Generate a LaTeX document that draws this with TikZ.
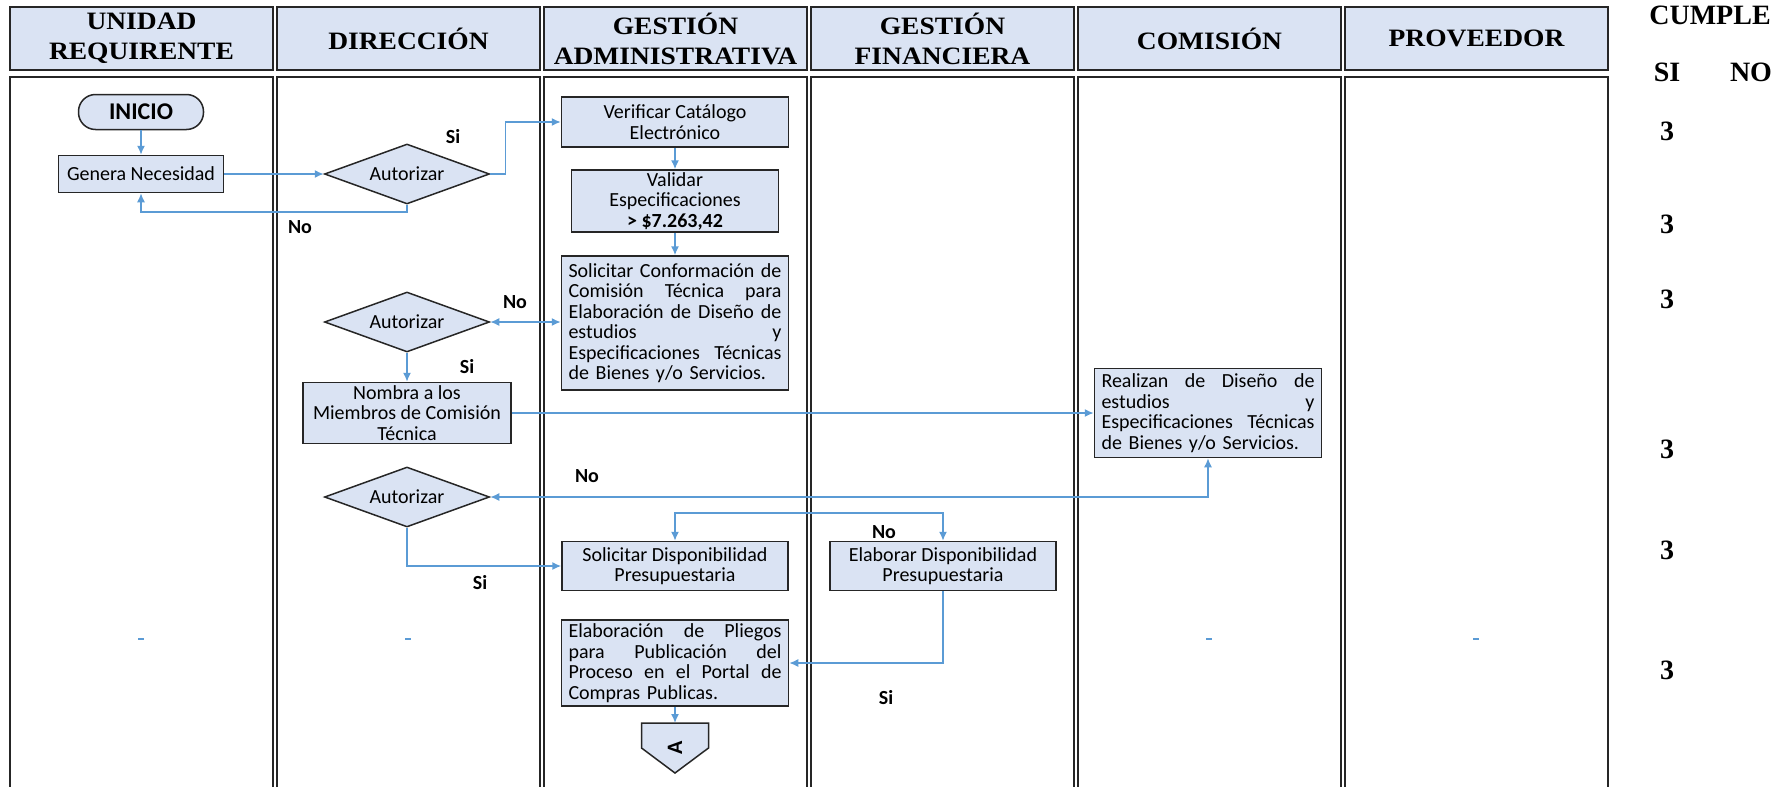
\documentclass[tikz,border=0pt]{standalone}
\usepackage{fontspec}
\setmainfont{Carlito}
\newfontfamily\hdrfont{Liberation Serif}[FakeStretch=1.1]
\newfontfamily\cumplefont{Liberation Serif}
\usetikzlibrary{shapes.geometric, arrows.meta}
\definecolor{boxblue}{HTML}{DAE3F3}
\definecolor{lineblue}{HTML}{5B9BD5}
\tikzstyle{lanehead} = [rectangle, minimum width=263pt, minimum height=63pt, text centered, align=center, draw=black!85, line width=2pt, fill=boxblue, font=\hdrfont\bfseries\fontsize{25}{30}\selectfont]
\tikzstyle{lanebody} = [draw=black!85, line width=2pt]
\tikzstyle{start} = [rectangle, rounded corners=17pt, minimum width=125pt, minimum height=35pt, text centered, draw=black!85, line width=1.5pt, fill=boxblue, font=\bfseries\fontsize{24}{24}\selectfont]
\tikzstyle{process} = [rectangle, inner xsep=6pt, inner ysep=1pt, text centered, align=center, draw=black!85, line width=1.5pt, fill=boxblue, font=\fontsize{20}{20.5}\selectfont]
\tikzstyle{procj} = [process, align=left, inner xsep=7pt, text width=213pt]
\tikzstyle{decision} = [diamond, aspect=2.75, minimum width=165pt, minimum height=60pt, inner sep=0pt, text centered, draw=black!85, line width=1.5pt, fill=boxblue, font=\fontsize{20}{20.5}\selectfont]
\tikzstyle{arrow} = [line width=1.5pt, draw=lineblue, ->, >={Latex[length=9pt,width=8pt]}]
\tikzstyle{answer} = [font=\bfseries\fontsize{20}{20}\selectfont]
\tikzstyle{check} = [font=\cumplefont\bfseries\fontsize{28}{28}\selectfont]
% linea justificada: palabras separadas con \hfill
\newcommand{\jline}[1]{\makebox[213pt][l]{#1}}

\begin{document}
\begin{tikzpicture}[x=1pt, y=-1pt]
\useasboundingbox (0,0) rectangle (1791,787);

% carriles
\node (hUR) [lanehead] at (141.5,38.5) {UNIDAD\\REQUIRENTE};
\node (hDir) [lanehead] at (408.5,38.5) {DIRECCIÓN};
\node (hGA) [lanehead] at (675.5,38.5) {GESTIÓN\\ADMINISTRATIVA};
\node (hGF) [lanehead] at (942.5,38.5) {GESTIÓN\\FINANCIERA};
\node (hCom) [lanehead] at (1209.5,38.5) {COMISIÓN};
\node (hProv) [lanehead] at (1476.5,38.5) {PROVEEDOR};
\foreach \x in {10,277,544,811,1078,1345}
  \draw [lanebody] (\x,77) rectangle ++(263,720);

% columna cumple
\node (cumple) [check] at (1710,15) {CUMPLE};
\node (csi) [check] at (1667,72) {SI};
\node (cno) [check] at (1751,72) {NO};
\foreach \y [count=\i] in {131,224,299,449,550,670}
  \node (c\i) [check] at (1667,\y) {3};

% proceso
\node (inicio) [start] at (141,112) {INICIO};
\node (genera) [process, minimum width=165pt, minimum height=37pt] at (141,174) {Genera Necesidad};
\node (aut1) [decision] at (407,174) {Autorizar};
\node (verif) [process, minimum width=227pt, minimum height=50pt] at (675,122) {Verificar Catálogo\\Electrónico};
\node (valid) [process, minimum width=207pt, minimum height=62pt] at (675,201) {Validar\\Especificaciones\\\textbf{> \$7.263,42}};
\node (solconf) [procj, minimum height=134pt] at (675,323) {\jline{Solicitar\hfill Conformación\hfill de}\\\jline{Comisión\hfill Técnica\hfill para}\\\jline{Elaboración\hfill de\hfill Diseño\hfill de}\\\jline{estudios\hfill y}\\\jline{Especificaciones\hfill Técnicas}\\de Bienes y/o Servicios.};
\node (aut2) [decision] at (407,322) {Autorizar};
\node (nombra) [process, minimum width=208pt, minimum height=61pt] at (407,413) {Nombra a los\\Miembros de Comisión\\Técnica};
\node (realizan) [procj, minimum height=89pt] at (1208,413) {\jline{Realizan\hfill de\hfill Diseño\hfill de}\\\jline{estudios\hfill y}\\\jline{Especificaciones\hfill Técnicas}\\de Bienes y/o Servicios.};
\node (aut3) [decision] at (407,497) {Autorizar};
\node (soldisp) [process, minimum width=226pt, minimum height=49pt] at (675,566) {Solicitar Disponibilidad\\Presupuestaria};
\node (elabdisp) [process, minimum width=226pt, minimum height=49pt] at (943,566) {Elaborar Disponibilidad\\Presupuestaria};
\node (pliegos) [procj, minimum height=86pt] at (675,663) {\jline{Elaboración\hfill de\hfill Pliegos}\\\jline{para\hfill Publicación\hfill del}\\\jline{Proceso\hfill en\hfill el\hfill Portal\hfill de}\\Compras Publicas.};

% conector fuera de pagina
\coordinate (offtop) at (675,723);
\draw [draw=black!85, line width=1.5pt, fill=boxblue] (offtop) ++(-33.5,0) -- ++(67,0) -- ++(0,25) -- ++(-33.5,25) -- ++(-33.5,-25) -- cycle;
\node (offA) [rotate=90, font=\bfseries\fontsize{22}{22}\selectfont] at (675,748) {A};

% respuestas
\node (si1) [answer] at (453,137) {Si};
\node (no1) [answer] at (300,227) {No};
\node (no2) [answer] at (515,302) {No};
\node (si2) [answer] at (467,367) {Si};
\node (no3) [answer] at (587,476) {No};
\node (si3) [answer] at (480,583) {Si};
\node (no4) [answer] at (884,532) {No};
\node (si4) [answer] at (886,698) {Si};

\foreach \x in {141,408,1209,1476}
  \draw [line width=1.5pt, lineblue] (\x-3,639) -- (\x+3,639);

\draw [arrow] (inicio) -- (genera);
\draw [arrow] (genera) -- (aut1);
\draw [arrow] (aut1.east) -- ++(15,0) |- (verif.west);
\draw [arrow] (aut1.south) -- ++(0,7) -| (genera.south);
\draw [arrow] (verif) -- (valid);
\draw [arrow] (valid) -- (solconf);
\draw [arrow, <->] (aut2.east) -- (aut2.east -| solconf.west);
\draw [arrow] (aut2) -- (nombra);
\draw [arrow] (nombra.east) -- (nombra.east -| realizan.west);
\draw [arrow, <->] (realizan.south) |- (aut3.east);
\draw [arrow] (aut3.south) |- (soldisp.west);
\draw [arrow, <->] (soldisp.north) -- ++(0,-28) -| (elabdisp.north);
\draw [arrow] (elabdisp.south) |- (pliegos.east);
\draw [arrow] (pliegos) -- (offtop);

\end{tikzpicture}
\end{document}
